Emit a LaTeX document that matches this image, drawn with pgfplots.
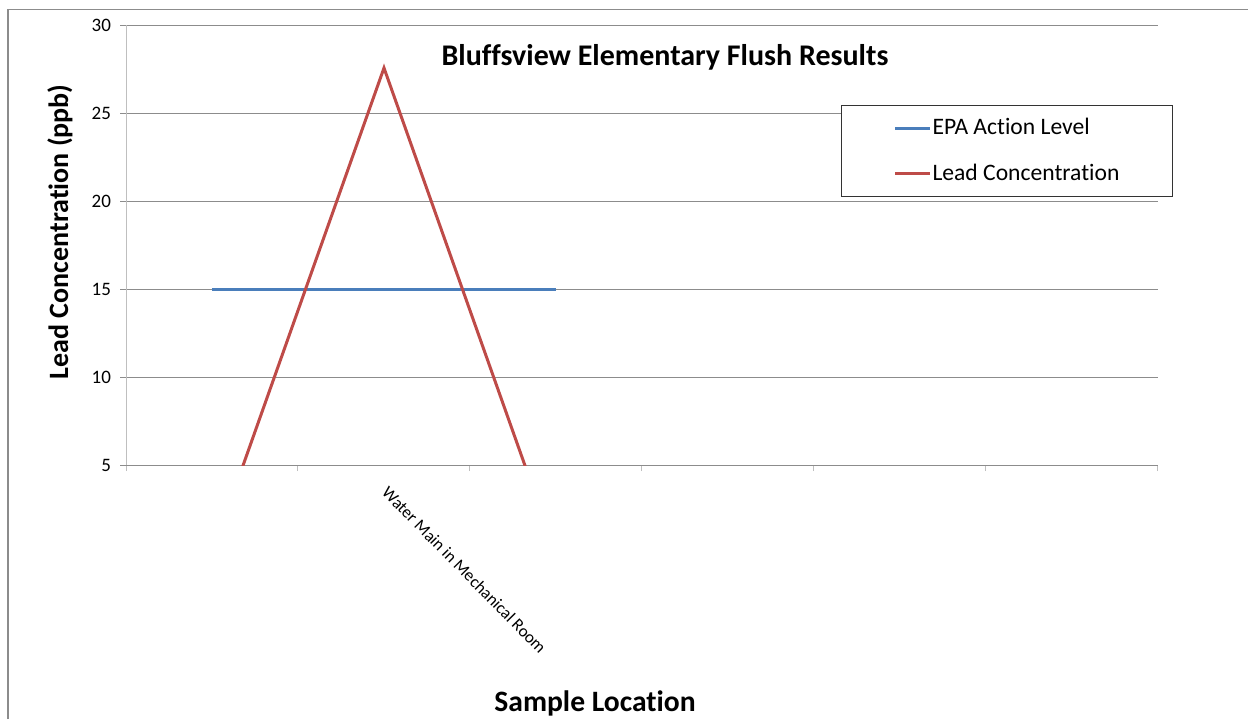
\documentclass[border=0pt]{standalone}
\usepackage{pgfplots}
\pgfplotsset{compat=1.18}
\usepackage{fontspec}
\setmainfont{Carlito}[Ligatures=NoCommon]
\definecolor{epablue}{HTML}{4A7EBB}
\definecolor{leadred}{HTML}{BE4B48}
\definecolor{gridgray}{HTML}{8C8C8C}
\definecolor{axisgray}{HTML}{BFBFBF}
\begin{document}
\begin{tikzpicture}[x=1pt,y=1pt]
\useasboundingbox (0,0) rectangle (624,359.5);
% chart frame (only top and left edges visible)
\draw[gridgray, line width=0.8pt] (4,0) -- (4,354.75) -- (624,354.75);
\begin{axis}[
  at={(63pt,127pt)}, anchor=south west,
  scale only axis, width=516pt, height=220pt,
  xmin=0.5, xmax=6.5, ymin=5, ymax=30,
  axis x line*=bottom, axis y line*=left,
  x axis line style={draw=gridgray, line width=0.5pt, -},
  y axis line style={draw=axisgray, line width=0.5pt, -},
  xtick={0.5,1.5,...,6.5}, xticklabels={},
  x tick style={draw=axisgray, line width=0.5pt},
  major tick length=3pt,
  tick align=outside,
  extra x ticks={2},
  extra x tick labels={Water Main in Mechanical Room},
  extra x tick style={major tick length=0pt,
    ticklabel style={rotate=-45.5, anchor=north west, font=\fontsize{8.5}{10}\selectfont, inner sep=0pt, xshift=9pt, yshift=-5pt}},
  ytick={5,10,...,30},
  y tick style={draw=gridgray, line width=0.5pt},
  ymajorgrids, major grid style={draw=gridgray, line width=0.5pt},
  yticklabel style={font=\fontsize{9.5}{11}\selectfont, xshift=-1pt},
  /pgf/number format/assume math mode=true,
  ylabel={\textbf{Lead Concentration (ppb)}},
  ylabel style={at={(rel axis cs:-0.064,0.53)}, anchor=center, rotate=0, font=\fontsize{14}{16}\selectfont},
  xlabel={\textbf{Sample Location}},
  xlabel style={at={(rel axis cs:0.4545,-0.541)}, anchor=center, font=\fontsize{14.8}{17}\selectfont},
  legend style={at={(rel axis cs:1.0145,0.818)}, anchor=north east,
    draw=black!80, line width=0.5pt, inner xsep=26pt, inner ysep=5.5pt,
    row sep=11pt, font=\fontsize{11.8}{14}\selectfont,
    nodes={inner xsep=0.5pt, inner ysep=1pt}},
  legend cell align=left,
  legend image code/.code={\draw[#1, line width=1.5pt] (0pt,0pt) -- (17.5pt,0pt);},
]
\addplot[epablue, line width=1.5pt] coordinates {(1,15) (2,15) (3,15)};
\addlegendentry{EPA Action Level}
\addplot[leadred, line width=1.5pt] coordinates {(1,0) (2,27.56) (3,0)};
\addlegendentry{Lead Concentration}
\end{axis}
\node[font=\bfseries\fontsize{15}{17}\selectfont] at (332.5,331) {Bluffsview Elementary Flush Results};
\end{tikzpicture}
\end{document}
